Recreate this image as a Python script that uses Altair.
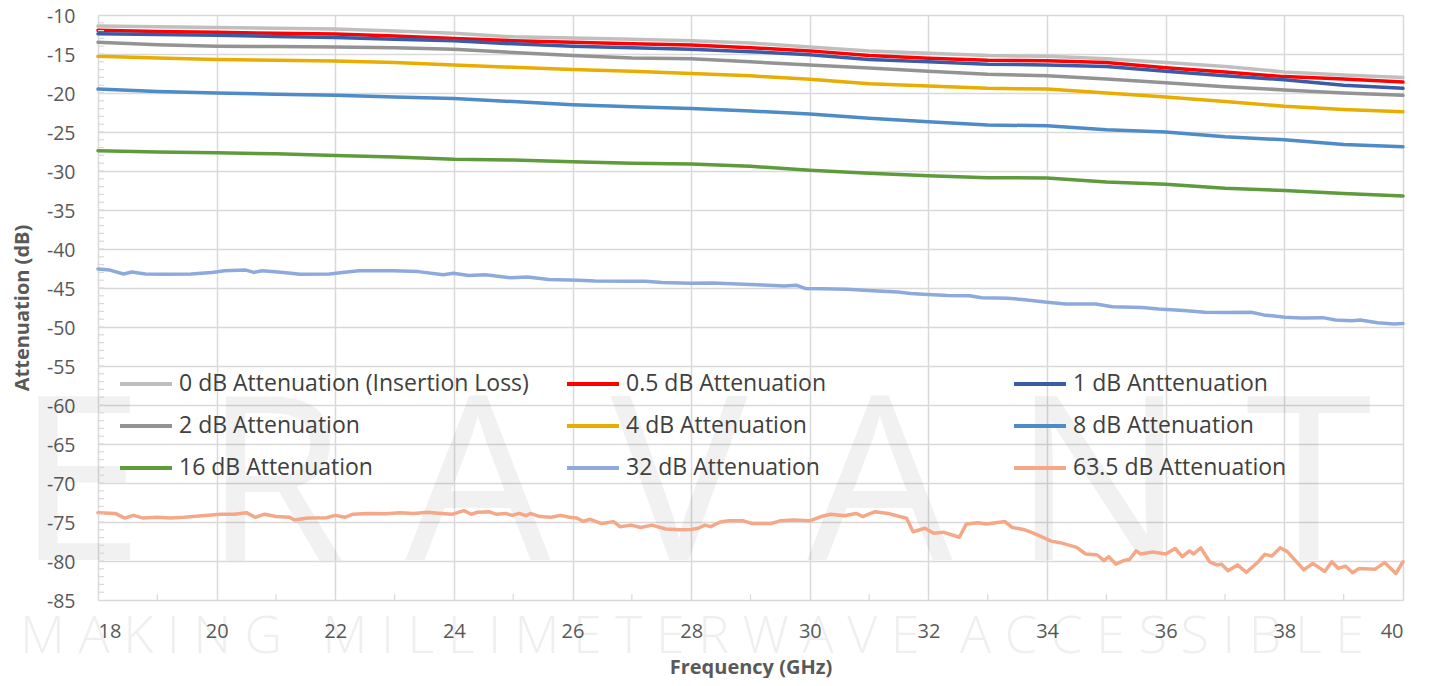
import altair as alt
import pandas as pd

# ---------------- data ----------------
freq = [18, 19, 20, 21, 22, 23, 24, 25, 26, 27, 28, 29, 30, 31, 32, 33, 34, 35, 36, 37, 38, 39, 40]

att_0 = [-11.4, -11.5, -11.6, -11.7, -11.8, -12.05, -12.35, -12.8, -12.95, -13.1, -13.3, -13.6,
         -14.1, -14.6, -14.9, -15.2, -15.3, -15.6, -16.1, -16.6, -17.3, -17.7, -18.0]
att_05 = [-11.97, -12.1, -12.2, -12.35, -12.45, -12.7, -13.0, -13.3, -13.5, -13.7, -13.85, -14.2,
          -14.6, -15.2, -15.55, -15.8, -15.85, -16.1, -16.75, -17.3, -17.9, -18.2, -18.6]
att_1 = [-12.4, -12.5, -12.6, -12.75, -12.9, -13.1, -13.3, -13.7, -14.0, -14.2, -14.4, -14.7,
         -15.1, -15.7, -16.0, -16.3, -16.4, -16.6, -17.2, -17.8, -18.3, -19.0, -19.4]
att_2 = [-13.5, -13.8, -14.0, -14.05, -14.1, -14.2, -14.4, -14.8, -15.2, -15.5, -15.6, -16.0,
         -16.4, -16.8, -17.2, -17.6, -17.8, -18.2, -18.7, -19.2, -19.6, -20.0, -20.3]
att_4 = [-15.3, -15.5, -15.7, -15.8, -15.9, -16.1, -16.4, -16.7, -17.0, -17.2, -17.5, -17.8,
         -18.25, -18.8, -19.1, -19.4, -19.5, -20.0, -20.5, -21.1, -21.7, -22.1, -22.4]
att_8 = [-19.5, -19.8, -20.0, -20.15, -20.3, -20.5, -20.7, -21.1, -21.5, -21.75, -22.0, -22.3,
         -22.7, -23.25, -23.7, -24.1, -24.2, -24.7, -25.0, -25.6, -26.0, -26.6, -26.9]
att_16 = [-27.4, -27.55, -27.65, -27.8, -28.0, -28.2, -28.5, -28.6, -28.8, -29.0, -29.1, -29.4,
          -29.9, -30.3, -30.6, -30.85, -30.9, -31.4, -31.7, -32.2, -32.5, -32.9, -33.2]

freq_32 = [18.0, 18.2, 18.43, 18.57, 18.8, 19.14, 19.57, 19.92, 20.13, 20.49, 20.63, 20.77, 21.13,
           21.41, 21.9, 22.12, 22.4, 22.97, 23.4, 23.82, 23.99, 24.25, 24.53, 24.96, 25.24, 25.6,
           26.1, 26.38, 26.94, 27.23, 27.51, 27.99, 28.36, 28.79, 29.21, 29.57, 29.78, 29.92, 30.21,
           30.63, 31.06, 31.48, 31.7, 31.91, 32.33, 32.69, 32.9, 33.33, 33.62, 34.04, 34.32, 34.82,
           35.1, 35.6, 35.88, 36.3, 36.66, 37.0, 37.44, 37.65, 38.01, 38.29, 38.65, 38.86, 39.14,
           39.28, 39.57, 39.85, 40.0]
att_32 = [-42.56, -42.7, -43.2, -42.95, -43.2, -43.25, -43.2, -43.0, -42.8, -42.7, -43.0, -42.8, -43.0,
          -43.25, -43.2, -43.0, -42.8, -42.8, -42.9, -43.3, -43.1, -43.4, -43.3, -43.7, -43.6, -43.9,
          -44.0, -44.1, -44.15, -44.15, -44.3, -44.4, -44.35, -44.5, -44.6, -44.75, -44.65, -45.05, -45.1,
          -45.15, -45.35, -45.5, -45.7, -45.8, -45.95, -46.0, -46.25, -46.3, -46.5, -46.85, -47.05, -47.05,
          -47.4, -47.5, -47.7, -47.9, -48.1, -48.15, -48.1, -48.45, -48.75, -48.85, -48.8, -49.1, -49.2,
          -49.1, -49.45, -49.6, -49.55]

freq_63 = [18.0, 18.29, 18.45, 18.6, 18.76, 18.99, 19.22, 19.45, 19.76, 20.07, 20.3, 20.5, 20.65, 20.81,
           21.0, 21.23, 21.31, 21.54, 21.85, 22.0, 22.16, 22.3, 22.55, 22.86, 23.09, 23.32, 23.55, 23.78,
           23.98, 24.17, 24.29, 24.4, 24.6, 24.71, 24.87, 24.98, 25.1, 25.22, 25.29, 25.45, 25.64, 25.8,
           25.95, 26.07, 26.18, 26.3, 26.49, 26.69, 26.8, 26.99, 27.15, 27.34, 27.57, 27.81, 28.0, 28.12,
           28.23, 28.33, 28.49, 28.64, 28.88, 29.03, 29.34, 29.5, 29.73, 30.0, 30.19, 30.35, 30.58, 30.78,
           30.89, 31.09, 31.32, 31.51, 31.63, 31.74, 31.94, 32.09, 32.25, 32.52, 32.64, 32.83, 32.98, 33.29,
           33.41, 33.6, 33.76, 34.07, 34.22, 34.5, 34.65, 34.84, 34.96, 35.04, 35.16, 35.31, 35.39, 35.5,
           35.58, 35.78, 36.0, 36.16, 36.28, 36.4, 36.47, 36.59, 36.74, 36.86, 36.94, 37.05, 37.21, 37.36,
           37.56, 37.67, 37.79, 37.93, 38.05, 38.33, 38.48, 38.68, 38.8, 38.91, 39.03, 39.15, 39.26, 39.53,
           39.69, 39.88, 40.0]
att_63 = [-73.8, -73.9, -74.5, -74.15, -74.5, -74.4, -74.5, -74.4, -74.2, -74.0, -74.0, -73.8, -74.4, -74.0,
          -74.3, -74.4, -74.75, -74.5, -74.45, -74.15, -74.4, -74.0, -73.9, -73.95, -73.8, -73.9, -73.75, -73.9,
          -74.0, -73.55, -74.0, -73.75, -73.7, -74.0, -73.9, -74.15, -73.9, -74.2, -73.9, -74.3, -74.4, -74.15,
          -74.4, -74.5, -74.9, -74.65, -75.2, -74.95, -75.6, -75.4, -75.7, -75.4, -75.9, -76.0, -75.95, -75.8,
          -75.4, -75.6, -75.0, -74.85, -74.85, -75.2, -75.2, -74.85, -74.75, -74.85, -74.3, -74.0, -74.2, -73.9,
          -74.3, -73.7, -73.9, -74.3, -74.5, -76.25, -75.8, -76.45, -76.3, -76.95, -75.25, -75.1, -75.25, -74.95,
          -75.7, -75.95, -76.4, -77.45, -77.65, -78.25, -79.1, -79.2, -79.95, -79.45, -80.4, -79.9, -79.8, -78.7,
          -79.1, -78.85, -79.1, -78.4, -79.45, -78.7, -79.1, -78.3, -80.1, -80.5, -80.4, -81.25, -80.5, -81.45,
          -80.1, -79.15, -79.35, -78.3, -78.8, -81.15, -80.3, -81.35, -80.1, -80.95, -80.65, -81.5, -80.95, -81.05,
          -80.2, -81.6, -80.1]

series_names = ["0 dB Attenuation (Insertion Loss)", "0.5 dB Attenuation", "1 dB Anttenuation",
                "2 dB Attenuation", "4 dB Attenuation", "8 dB Attenuation",
                "16 dB Attenuation", "32 dB Attenuation", "63.5 dB Attenuation"]
series_colors = ["#bfbfbf", "#ff0000", "#3a5ca8", "#939393", "#e8ad00", "#4f8bc6",
                 "#5f9b3d", "#8eaadc", "#f4a888"]

x_ticks = [18, 20, 22, 24, 26, 28, 30, 32, 34, 36, 38, 40]
y_ticks = [-85, -80, -75, -70, -65, -60, -55, -50, -45, -40, -35, -30, -25, -20, -15, -10]
x_minor = [19, 21, 23, 25, 27, 29, 31, 33, 35, 37, 39]
y_minor = [v for v in range(-84, -10)]

NB3 = "\u00a0\u00a0\u00a0"
watermark_big = "E R A V A N T"
watermark_small = ("M A K I N G" + NB3 + "M I L L I M E T E R W A V E" + NB3 +
                   "A C C E S S I B L E")

# ---------------- build table ----------------
rows = []
for name, vals in zip(series_names[:7], [att_0, att_05, att_1, att_2, att_4, att_8, att_16]):
    for f, v in zip(freq, vals):
        rows.append({"series": name, "freq": f, "att": v})
for f, v in zip(freq_32, att_32):
    rows.append({"series": series_names[7], "freq": f, "att": v})
for f, v in zip(freq_63, att_63):
    rows.append({"series": series_names[8], "freq": f, "att": v})
df = pd.DataFrame(rows)
df["order"] = df["series"].map({n: i for i, n in enumerate(series_names)})

FONT = "Open Sans"
W, H = 1305, 585

xscale = alt.Scale(domain=[18, 40], nice=False, zero=False)
yscale = alt.Scale(domain=[-85, -10], nice=False, zero=False)

x_axis = alt.Axis(values=x_ticks, grid=True, gridColor="#d9d9d9", gridWidth=1.5,
                  domain=False, ticks=False, labelFont=FONT, labelFontSize=20,
                  labelColor="#595959", labelPadding=21, labelExpr="'' + datum.value",
                  labelOverlap=False,
                  title="Frequency (GHz)", titleFont=FONT, titleFontSize=20,
                  titleFontWeight="bold", titleColor="#595959",
                  titleX=W / 2, titleY=73, titleBaseline="alphabetic", titleAlign="center")
y_axis = alt.Axis(values=y_ticks, grid=True, gridColor="#d9d9d9", gridWidth=1.5,
                  domain=False, ticks=False, labelFont=FONT, labelFontSize=19.5,
                  labelColor="#595959", labelPadding=23, labelExpr="'' + datum.value",
                  labelOverlap=False, labelOffset=1,
                  title="Attenuation (dB)", titleFont=FONT, titleFontSize=20,
                  titleFontWeight="bold", titleColor="#595959",
                  titleX=-76, titleY=H / 2, titleAngle=-90, titleBaseline="middle",
                  titleAlign="center")

wm1 = alt.Chart(pd.DataFrame({"t": [watermark_big]})).mark_text(
    font=FONT, fontSize=230, fontWeight="normal", color="#000000", opacity=0.05,
    align="left", baseline="alphabetic"
).encode(text="t:N", x=alt.value(-82), y=alt.value(545))

wm2 = alt.Chart(pd.DataFrame({"t": [watermark_small]})).mark_text(
    font=FONT, fontSize=52, fontWeight=300, color="#000000", opacity=0.06,
    align="left", baseline="alphabetic"
).encode(text="t:N", x=alt.value(-78), y=alt.value(638))

lines = alt.Chart(df).mark_line(strokeWidth=3.5, strokeJoin="round", strokeCap="round").encode(
    x=alt.X("freq:Q", scale=xscale, axis=x_axis),
    y=alt.Y("att:Q", scale=yscale, axis=y_axis),
    color=alt.Color("series:N", sort=series_names,
                    scale=alt.Scale(domain=series_names, range=series_colors),
                    legend=alt.Legend(title=None, orient="none", legendX=20, legendY=341,
                                      columns=3, direction="horizontal",
                                      symbolType="stroke", symbolSize=2704,
                                      symbolStrokeWidth=4, labelFont=FONT, labelFontSize=23,
                                      labelColor="#404040", labelOffset=5, columnPadding=30,
                                      rowPadding=2, gridAlign="all", padding=0,
                                      labelLimit=500)),
    order=alt.Order("order:Q"),
    detail="series:N",
)

ytick_df = pd.DataFrame({"att": y_minor})
xtick_df = pd.DataFrame({"freq": x_minor})

yminor = alt.Chart(ytick_df).mark_rule(color="#d9d9d9", strokeWidth=1.2).encode(
    y=alt.Y("att:Q", scale=yscale, axis=y_axis), x=alt.value(0), x2=alt.value(6))
xminor = alt.Chart(xtick_df).mark_rule(color="#d9d9d9", strokeWidth=1.2).encode(
    x=alt.X("freq:Q", scale=xscale, axis=x_axis), y=alt.value(H - 6), y2=alt.value(H))

chart = alt.layer(wm1, wm2, lines, yminor, xminor).properties(
    width=W, height=H,
    autosize=alt.AutoSizeParams(type="none"),
    padding={"left": 90, "top": 7, "right": 18, "bottom": 78},
    background="white",
).configure_view(stroke=None)

chart.save("out.html", embed_options={"renderer": "svg", "actions": False})
